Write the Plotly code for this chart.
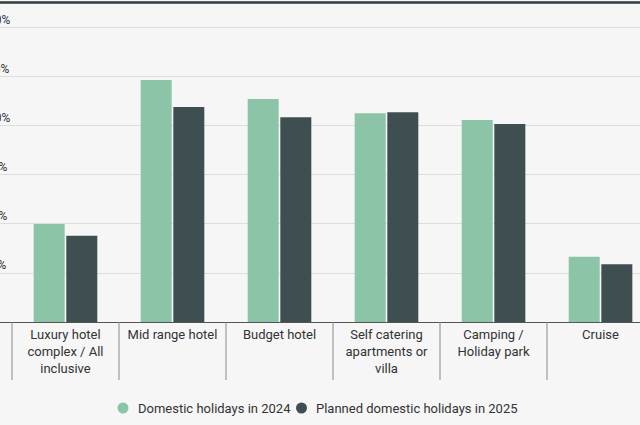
import plotly.graph_objects as go

categories = ["Luxury hotel<br>complex / All<br>inclusive", "Mid range hotel", "Budget hotel",
              "Self catering<br>apartments or<br>villa", "Camping /<br>Holiday park", "Cruise"]
series_names = ["Domestic holidays in 2024", "Planned domestic holidays in 2025"]
values_2024 = [20.0, 49.4, 45.5, 42.6, 41.2, 13.3]
values_2025 = [17.6, 43.9, 41.8, 42.8, 40.4, 11.8]
y_ticks = [10, 20, 30, 40, 50, 60]
y_tick_labels = ["10%", "20%", "30%", "40%", "50%", "60%"]

GREEN = "#8cc4a8"
DARK = "#3f4f51"
BG = "#f6f6f6"
TXT = "#333333"
FONT = "Roboto"
W, H = 640, 425
BASE = 322  # pixel row of the baseline

x_idx = list(range(len(categories)))

fig = go.Figure()
fig.add_trace(go.Bar(x=x_idx, y=values_2024, name=series_names[0], marker_color=GREEN,
                     marker_line_width=0, showlegend=False))
fig.add_trace(go.Bar(x=x_idx, y=values_2025, name=series_names[1], marker_color=DARK,
                     marker_line_width=0, showlegend=False))

# partially clipped y tick labels (left edge of the view)
label_right_px = {10: 7.5, 20: 8.5, 30: 9, 40: 11.5, 50: 10.5, 60: 11.5}
for v, t in zip(y_ticks, y_tick_labels):
    fig.add_annotation(x=label_right_px[v] / W, xref="paper", xanchor="right",
                       y=v, yref="y", yanchor="bottom", yshift=-1,
                       text=t, showarrow=False, font=dict(family=FONT, size=12, color=TXT))

# category separators
for i in range(len(categories) + 1):
    fig.add_shape(type="line", xref="x", yref="paper", x0=i - 0.5, x1=i - 0.5,
                  y0=0, y1=-58 / BASE, line=dict(color="#8a8a8a", width=1))

# top border line
fig.add_shape(type="line", xref="paper", yref="paper", x0=0, x1=1,
              y0=(BASE - 2.5) / BASE, y1=(BASE - 2.5) / BASE, line=dict(color="#2f3d3f", width=2.5))

# manual legend (circle + text)
leg_y_px = 408
leg_items = [(123, 136, GREEN), (301.5, 313.5, DARK)]
r = 5.5
for (cx, tx, col), nm in zip(leg_items, series_names):
    fig.add_shape(type="circle", xref="paper", yref="paper",
                  x0=(cx - r) / W, x1=(cx + r) / W,
                  y0=(BASE - leg_y_px - r) / BASE, y1=(BASE - leg_y_px + r) / BASE,
                  fillcolor=col, line=dict(width=0))
    fig.add_annotation(x=tx / W, xref="paper", xanchor="left",
                       y=(BASE - leg_y_px) / BASE, yref="paper", yanchor="middle",
                       text=nm, showarrow=False, font=dict(family=FONT, size=13, color=TXT))

fig.update_layout(
    width=W, height=H,
    margin=dict(l=0, r=0, t=0, b=H - BASE),
    paper_bgcolor=BG, plot_bgcolor=BG,
    barmode="group", bargap=0.39, bargroupgap=0.05,
    showlegend=False,
    font=dict(family=FONT, size=13, color=TXT),
    xaxis=dict(tickmode="array", tickvals=x_idx, ticktext=categories,
               range=[-0.612, 5.369], showgrid=False, zeroline=False, ticks="",
               showline=False, ticklabelstandoff=3,
               tickfont=dict(family=FONT, size=13, color=TXT)),
    yaxis=dict(range=[0, 65.71], tickvals=y_ticks, showticklabels=False,
               showgrid=True, gridcolor="#dddddd", gridwidth=1,
               zeroline=True, zerolinecolor="#555555", zerolinewidth=1.2),
)

fig.write_html("out.html", config={"displayModeBar": False},
               post_script="document.body.style.margin='0';document.body.style.background='#f6f6f6';")
